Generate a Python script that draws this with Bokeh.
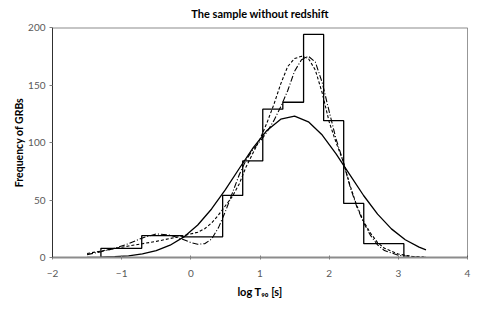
from bokeh.plotting import figure
from bokeh.models import Range1d, FixedTicker, Span, Title
from bokeh.embed import file_html
from bokeh.resources import INLINE

# ---- data ----
bin_edges = [-1.3, -0.71, -0.12, 0.46, 0.75, 1.04, 1.33, 1.63, 1.92, 2.21, 2.5, 3.08]
bin_counts = [8, 19, 18, 54, 84, 129, 135, 194, 119, 47, 12]

solid_x = [-1.5, -1.3, -1.1, -0.9, -0.7, -0.5, -0.3, -0.1, 0.1, 0.3, 0.5, 0.7, 0.9, 1.1,
           1.3, 1.5, 1.7, 1.9, 2.1, 2.3, 2.5, 2.7, 2.9, 3.1, 3.3, 3.4]
solid_y = [0.1, 0.3, 0.7, 1.5, 3.1, 5.9, 10.7, 17.9, 28.3, 42.2, 59, 77.4, 95.4, 110.5,
           120.3, 123, 118, 106.5, 90.2, 71.8, 53.7, 37.7, 24.9, 15.4, 9.0, 6.7]

dotted_x = [-1.5, -1.3, -1.1, -0.9, -0.7, -0.5, -0.3, -0.1, 0.1, 0.2, 0.3, 0.4, 0.5, 0.6,
            0.7, 0.8, 0.9, 1.0, 1.1, 1.2, 1.3, 1.4, 1.5, 1.6, 1.7, 1.8, 1.9, 2.0, 2.1,
            2.2, 2.3, 2.4, 2.5, 2.6, 2.7, 2.8, 3.0, 3.2, 3.4]
dotted_y = [3.5, 5.5, 8, 10, 12, 14, 16.5, 19, 22, 25, 30, 37, 45, 53,
            64, 79, 91, 103, 117, 133, 151, 166, 173, 175, 173, 163, 143, 118, 100,
            84, 63, 45, 31, 21, 13, 8, 3, 1, 0.3]

dashdot_x = [-1.5, -1.3, -1.1, -0.9, -0.7, -0.5, -0.3, -0.1, 0.0, 0.1, 0.2, 0.3, 0.4, 0.5,
             0.6, 0.7, 0.8, 0.9, 1.0, 1.1, 1.2, 1.3, 1.4, 1.5, 1.6, 1.7, 1.8, 1.9, 2.0,
             2.1, 2.2, 2.3, 2.4, 2.5, 2.6, 2.7, 2.8, 3.0, 3.2, 3.4]
dashdot_y = [2.5, 5, 8, 12, 17, 20.5, 19.5, 15.5, 13, 11.5, 12, 16, 26, 40,
             56, 72, 85, 94, 101, 109, 119, 131, 145, 162, 172, 175, 170, 152, 127,
             103, 84, 62, 44, 30, 19, 11, 6, 2, 0.5, 0.1]

x_ticks = [-2, -1, 0, 1, 2, 3, 4]
y_ticks = [0, 50, 100, 150, 200]

title_text = "The sample without redshift"
x_label = "log T\u2089\u2080 [s]"
y_label = "Frequency of GRBs"

FONT = "Lato"

p = figure(width=475, height=305, output_backend="svg", toolbar_location=None,
           x_range=Range1d(-2, 4), y_range=Range1d(0, 200),
           min_border_left=52, min_border_right=8, min_border_top=27, min_border_bottom=48)
p.outline_line_color = None
p.xgrid.grid_line_color = None
p.ygrid.grid_line_color = None
p.background_fill_color = "white"

# histogram outline as steps
hx = [bin_edges[0]] + bin_edges
hy = [0] + bin_counts + [0]
p.step(hx, hy, mode="after", line_color="black", line_width=1.3)

p.line(solid_x, solid_y, line_color="black", line_width=1.3)
p.line(dotted_x, dotted_y, line_color="black", line_width=1.1, line_dash="3 2")
p.line(dashdot_x, dashdot_y, line_color="black", line_width=1.1, line_dash="6 2 1 2")

# frame lines
p.add_layout(Span(location=200, dimension="width", line_color="#8c8c8c", line_width=2))
p.add_layout(Span(location=4, dimension="height", line_color="#303030", line_width=1))

for ax in (p.xaxis[0], p.yaxis[0]):
    ax.major_label_text_font = FONT
    ax.major_label_text_font_size = "10px"
    ax.major_label_text_color = "#595959"
    ax.minor_tick_line_color = None
    ax.major_tick_line_color = "#808080"

p.xaxis.ticker = FixedTicker(ticks=x_ticks)
p.yaxis.ticker = FixedTicker(ticks=y_ticks)
p.xaxis.axis_line_color = "#8c8c8c"
p.xaxis.axis_line_width = 2
p.xaxis.major_tick_in = 2
p.xaxis.major_tick_out = 2
p.xaxis.major_label_standoff = 10
p.yaxis.axis_line_color = "#303030"
p.yaxis.axis_line_width = 1
p.yaxis.major_tick_in = 0
p.yaxis.major_tick_out = 3
p.yaxis.major_label_standoff = 4

p.xaxis.axis_label = x_label
p.xaxis.axis_label_text_font = FONT
p.xaxis.axis_label_text_font_style = "bold"
p.xaxis.axis_label_text_font_size = "11px"
p.xaxis.axis_label_text_color = "black"
p.xaxis.axis_label_standoff = 5

p.add_layout(Title(text=title_text, align="center", offset=-22, text_font=FONT,
                   text_font_style="bold", text_font_size="11px", standoff=12,
                   vertical_align="top", text_color="black"), "above")
p.add_layout(Title(text=y_label, align="center", offset=-13, text_font=FONT,
                   text_font_style="bold", text_font_size="10.5px", standoff=2,
                   text_color="black"), "left")

open("out.html", "w").write(file_html(p, INLINE))
